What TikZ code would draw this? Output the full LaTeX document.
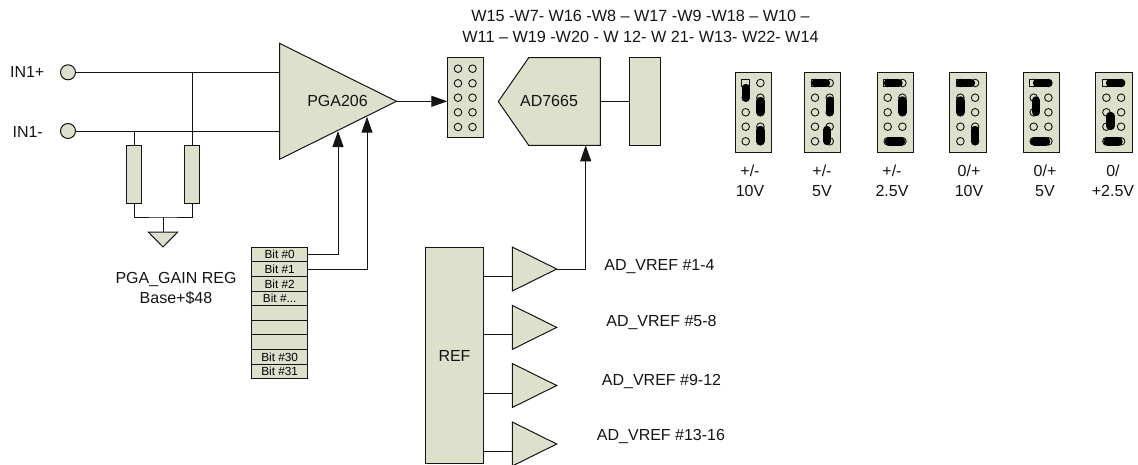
\documentclass[tikz,border=0pt]{standalone}
\usepackage{fontspec}
\setmainfont{Liberation Sans}
\usetikzlibrary{arrows.meta,positioning,calc,shapes.geometric}
\definecolor{BOARD-GREEN}{RGB}{221, 224, 203}
\definecolor{WIRE-BLACK}{RGB}{20, 20, 20}

\tikzset{
  wire/.style={WIRE-BLACK, line width=1pt},
  arrowwire/.style={wire, ->, >={Triangle[length=16pt, width=11pt]}},
  device/.style={draw=WIRE-BLACK, fill=BOARD-GREEN, line width=1pt, inner sep=0pt, outer sep=0pt},
  label/.style={font=\fontsize{16}{20}\selectfont, align=center, inner sep=0pt, text=WIRE-BLACK},
  bitrow/.style={device, minimum width=56pt, minimum height=14.6pt,
    font=\fontsize{11.8}{13}\selectfont},
  terminal/.style={device, circle, minimum size=15pt},
  resistor/.style={device, minimum width=14.6pt, minimum height=58pt},
  buffer/.style={device, isosceles triangle, isosceles triangle stretches,
    shape border rotate=0, minimum width=44pt, minimum height=44.4pt, anchor=apex},
  pin/.style={draw=WIRE-BLACK, fill=BOARD-GREEN, line width=0.9pt},
  jumperlink/.style={line width=8.4pt, line cap=round, black},
}

% block of ten pins, first pin is square
\newcommand{\pinblock}[3]{
  \node[device, minimum width=36.6pt, minimum height=#3, anchor=north west] (#1) at (#2) {};
}
\newcommand{\jumperpins}[1]{
  \begin{scope}[shift={(#1,72.7)}]
    \foreach \pinx in {10.7,25.4} {
      \foreach \piny in {10.3,25,39.6,54,68.6} {
        \draw[pin] (\pinx,\piny) circle (3.8);
      }
    }
    \draw[pin] (6.9,6.5) rectangle (14.5,14.1);
  \end{scope}
}

\begin{document}
\begin{tikzpicture}[x=1pt, y=-1pt]
  \useasboundingbox (0,0) rectangle (1138,464);
  \clip (0,0) rectangle (1138,464);

  % Inputs
  \node[terminal] (in1p) at (68,72.3) {};
  \node[terminal] (in1m) at (68,131) {};
  \node[label, anchor=east] (in1plabel) at (44.5,72) {IN1+};
  \node[label, anchor=east] (in1mlabel) at (43,131.5) {IN1-};

  % Gain amplifier
  \node[device, isosceles triangle, isosceles triangle stretches, shape border rotate=0,
    minimum width=116pt, minimum height=117pt, anchor=apex] (pga) at (396.5,101.3) {};
  \node[label] (pgalabel) at (337.5,101) {PGA206};
  \draw[wire] (in1p) -- (in1p -| pga.lower side);
  \draw[wire] (in1m) -- (in1m -| pga.lower side);

  % Input resistors and ground
  \node[resistor] (rleft) at (134,174) {};
  \node[resistor] (rright) at (192,174) {};
  \draw[wire] (rleft.north) -- (rleft.north |- in1m);
  \draw[wire] (rright.north) -- (rright.north |- in1p);
  \coordinate (gndjoin) at (163,217);
  \node[device, isosceles triangle, isosceles triangle stretches, shape border rotate=-90,
    minimum width=29.5pt, minimum height=15pt, anchor=lower side] (gnd) at (163,232) {};
  \draw[wire] (rleft.south) |- (gndjoin) -| (rright.south);
  \draw[wire] (gndjoin) -- (gnd.lower side);

  % Gain register
  \node[bitrow, anchor=north west] (bit0) at (251.7,247.3) {Bit \#0};
  \node[bitrow, below=0pt of bit0] (bit1) {Bit \#1};
  \node[bitrow, below=0pt of bit1] (bit2) {Bit \#2};
  \node[bitrow, below=0pt of bit2] (bit3) {Bit \#...};
  \node[bitrow, below=0pt of bit3] (bit4) {};
  \node[bitrow, below=0pt of bit4] (bit5) {};
  \node[bitrow, below=0pt of bit5] (bit6) {};
  \node[bitrow, below=0pt of bit6] (bit30) {Bit \#30};
  \node[bitrow, below=0pt of bit30] (bit31) {Bit \#31};
  \node[label] (gainreg) at (176,288) {PGA\_GAIN REG\\Base+\$48};
  \coordinate (pgatip0) at (338,131);
  \coordinate (pgatip1) at (367,116.7);
  \draw[arrowwire] (bit0.east) -| (pgatip0);
  \draw[arrowwire] (bit1.east) -| (pgatip1);

  % Connector, converter
  \pinblock{conn}{447.3,57.7}{80pt}
  \foreach \pinx in {458,472.5} {
    \foreach \piny in {68.7,83.3,97.7,112.3,127} {
      \draw[pin] (\pinx,\piny) circle (3.8);
    }
  }
  \draw[arrowwire] (pga.apex) -- (pga.apex -| conn.west);
  \draw[device] (498.3,101.5) -- (528.7,57.7) -- (600.3,57.7) -- (600.3,145.3)
    -- (528.7,145.3) -- cycle;
  \node[label] (adc) at (549,101) {AD7665};
  \node[device, minimum width=30.7pt, minimum height=87.6pt, anchor=north west] (adcout) at (629.3,57.7) {};
  \coordinate (adcright) at (600.3,101.5);
  \coordinate (adcbottom) at (585.7,145.3);
  \draw[wire] (adcright) -- (adcright -| adcout.west);
  \node[label, font=\fontsize{16.2}{20.5}\selectfont] (jumperlist) at (640.5,26.5) {W15 -W7- W16 -W8 – W17 -W9 -W18 – W10 –\\
    W11 – W19 -W20 - W 12- W 21- W13- W22- W14};

  % Reference and buffers
  \node[device, label, draw=WIRE-BLACK, minimum width=57.6pt, minimum height=216pt] (ref) at (454.5,355.5) {REF};
  \node[buffer] (buf1) at (556.7,269) {};
  \node[buffer] (buf2) at (556.7,327.4) {};
  \node[buffer] (buf3) at (556.7,385.5) {};
  \node[buffer] (buf4) at (556.7,444) {};
  \draw[wire] (ref.east |- 0,276.3) -- (buf1.lower side |- 0,276.3);
  \draw[wire] (ref.east |- 0,334.7) -- (buf2.lower side |- 0,334.7);
  \draw[wire] (ref.east |- 0,393) -- (buf3.lower side |- 0,393);
  \draw[wire] (ref.east |- 0,451) -- (buf4.lower side |- 0,451);
  \draw[arrowwire] (buf1.apex) -| (adcbottom);
  \node[label, anchor=base] (vref1) at (659.5,270) {AD\_VREF \#1-4};
  \node[label, anchor=base] (vref2) at (661.5,326.7) {AD\_VREF \#5-8};
  \node[label, anchor=base] (vref3) at (661.5,385) {AD\_VREF \#9-12};
  \node[label, anchor=base] (vref4) at (661,440) {AD\_VREF \#13-16};

  % Jumper settings
  \pinblock{jp1}{735,72.7}{79.6pt}
  \pinblock{jp2}{804.3,72.7}{79.6pt}
  \pinblock{jp3}{877,72.7}{79.6pt}
  \pinblock{jp4}{949.7,72.7}{79.6pt}
  \pinblock{jp5}{1023,72.7}{79.6pt}
  \pinblock{jp6}{1095.7,72.7}{79.6pt}
  \jumperpins{735}
  \jumperpins{804.3}
  \jumperpins{877}
  \jumperpins{949.7}
  \jumperpins{1023}
  \jumperpins{1095.7}

  % Links on the pins
  \draw[jumperlink] (745.7,88) -- (745.7,97.5);
  \draw[jumperlink] (760.3,101) -- (760.3,112);
  \draw[jumperlink] (760.3,130) -- (760.3,141);
  \draw[jumperlink] (815.7,83) -- (826,83);
  \draw[jumperlink] (829.7,100.5) -- (829.7,112);
  \draw[jumperlink] (827,130) -- (827,141);
  \draw[jumperlink] (888,83) -- (898.5,83);
  \draw[jumperlink] (902.4,100.5) -- (902.4,112);
  \draw[jumperlink] (889,141.3) -- (901,141.3);
  \draw[jumperlink] (960.5,83) -- (971,83);
  \draw[jumperlink] (960.3,100.5) -- (960.3,112);
  \draw[jumperlink] (975,130) -- (975,141);
  \draw[jumperlink] (1037,83) -- (1048,83);
  \draw[jumperlink] (1036,100.5) -- (1036,112);
  \draw[jumperlink] (1034.5,141.3) -- (1046,141.3);
  \draw[jumperlink] (1110,83) -- (1121,83);
  \draw[jumperlink] (1110.3,116) -- (1110.3,126);
  \draw[jumperlink] (1107.5,141.3) -- (1118.5,141.3);

  % Range labels
  \node[label] (range1) at (750,181) {+/-\\10V};
  \node[label] (range2) at (822,181) {+/-\\5V};
  \node[label] (range3) at (892,181) {+/-\\2.5V};
  \node[label] (range4) at (969,181) {0/+\\10V};
  \node[label] (range5) at (1045,181) {0/+\\5V};
  \node[label] (range6) at (1113,181) {0/\\+2.5V};
\end{tikzpicture}
\end{document}
